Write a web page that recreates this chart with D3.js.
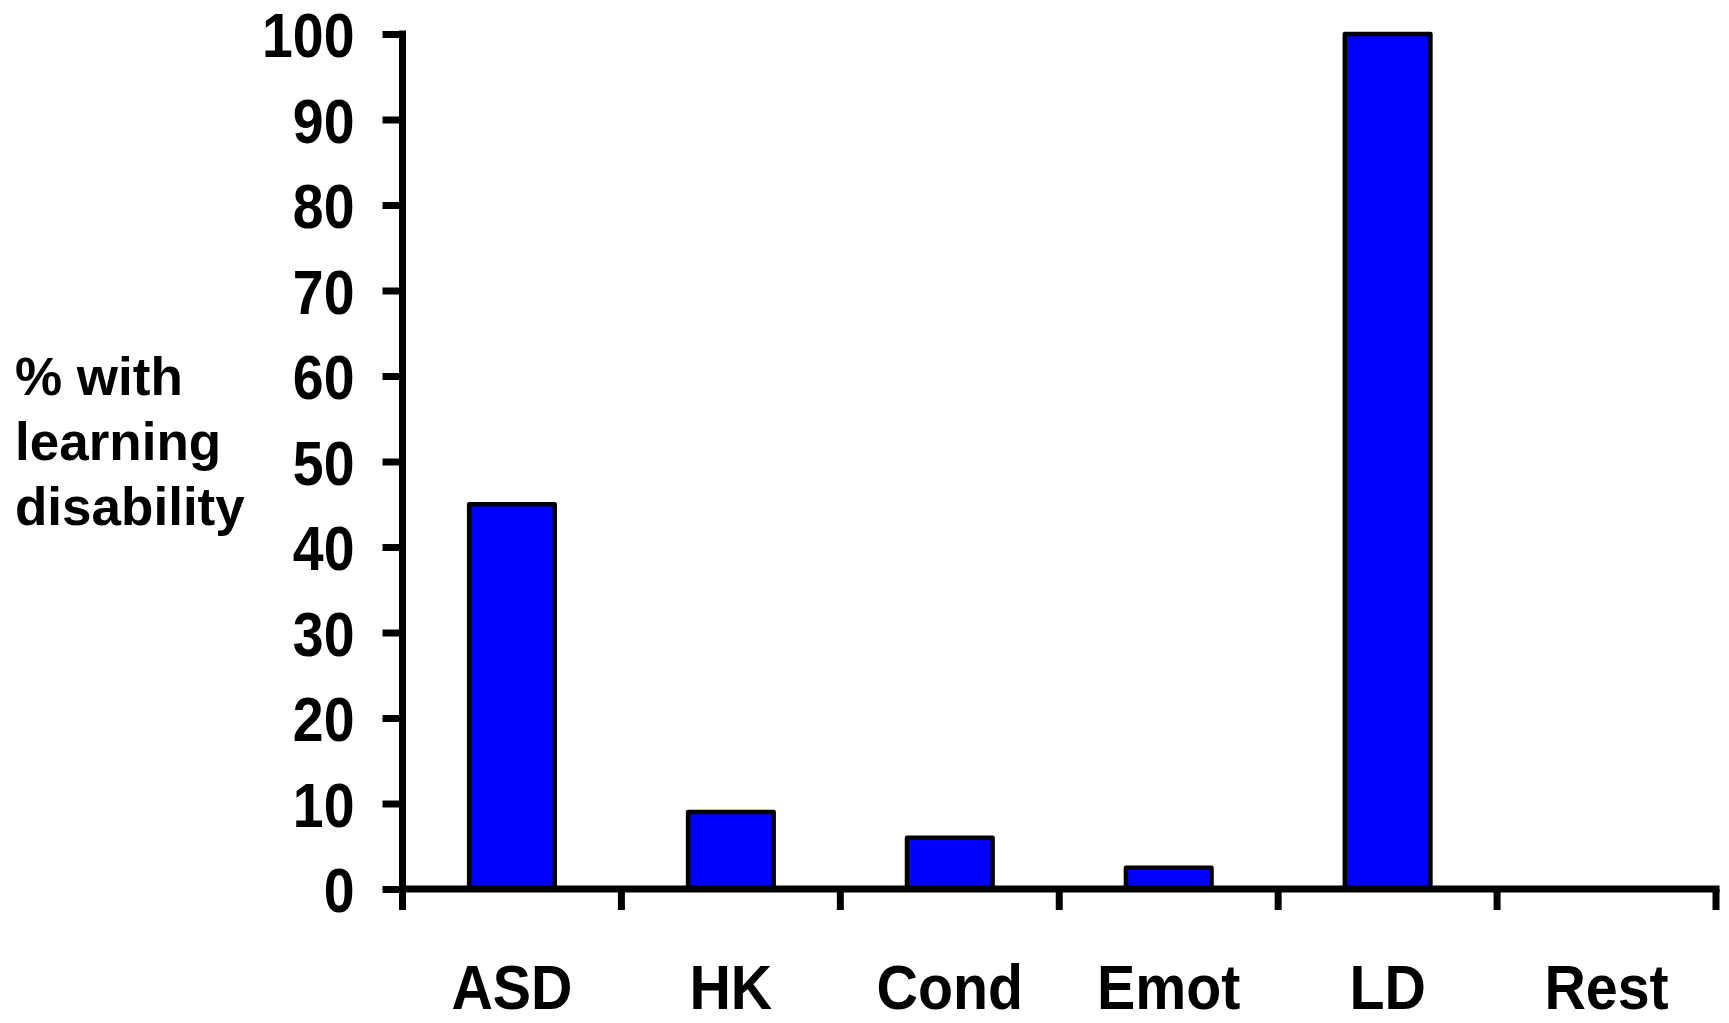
<!DOCTYPE html>
<html>
<head>
<meta charset="utf-8">
<script src="https://cdn.jsdelivr.net/npm/d3@7"></script>
<style>
  html, body { margin: 0; padding: 0; background: #fff; }
  svg { display: block; }
  text { font-family: "Liberation Sans", Arial, Helvetica, sans-serif; font-weight: bold; fill: #000; }
</style>
</head>
<body>
<svg id="chart" width="1729" height="1023"></svg>
<script>
const categories = ["ASD", "HK", "Cond", "Emot", "LD", "Rest"];
const values = [45, 9, 6, 2.5, 100, 0];
const yTicks = [0, 10, 20, 30, 40, 50, 60, 70, 80, 90, 100];
const yTitleLines = ["% with", "learning", "disability"];

const svg = d3.select("#chart");
const x0 = 402.5, x1 = 1716, yBase = 889, yTop = 34;

const x = d3.scaleBand().domain(categories).range([x0, x1])
  .paddingInner(0.609).paddingOuter(0.3045);
const y = d3.scaleLinear().domain([0, 100]).range([yBase, yTop]);
const step = x.step();

function condense(sel, k) {
  sel.each(function() {
    const w = this.getComputedTextLength();
    d3.select(this).attr("textLength", w * k).attr("lengthAdjust", "spacingAndGlyphs");
  });
}

// bars
svg.append("g").selectAll("rect").data(values).join("rect")
  .attr("x", (d, i) => x(categories[i]))
  .attr("width", x.bandwidth())
  .attr("y", d => y(d))
  .attr("height", d => yBase - y(d))
  .attr("fill", "#0000FF")
  .attr("stroke", d => d > 0 ? "#000" : "none")
  .attr("stroke-width", 4.5)
  .attr("stroke-linejoin", "round");

// y axis
const yAxis = d3.axisLeft(y).tickValues(yTicks).tickSize(20).tickPadding(28).tickFormat(d3.format("d"));
const gy = svg.append("g").attr("transform", `translate(${x0},0)`).call(yAxis);
gy.select(".domain").remove();
gy.selectAll(".tick line").attr("stroke", "#000").attr("stroke-width", 7);
gy.selectAll(".tick text").attr("font-size", 63).attr("dy", "0.36em")
  .style("font-family", '"Liberation Sans", Arial, sans-serif').style("font-weight", "bold");
condense(gy.selectAll(".tick text"), 0.88);
svg.append("line").attr("x1", x0).attr("x2", x0).attr("y1", yTop - 3.5).attr("y2", 910)
  .attr("stroke", "#000").attr("stroke-width", 7);

// x axis baseline + boundary ticks
svg.append("line").attr("x1", x0).attr("x2", x1 + 3.5).attr("y1", yBase).attr("y2", yBase)
  .attr("stroke", "#000").attr("stroke-width", 7);
const bounds = d3.range(categories.length + 1).map(i => x0 + i * step);
svg.append("g").selectAll("line").data(bounds.slice(1)).join("line")
  .attr("x1", d => d).attr("x2", d => d)
  .attr("y1", yBase).attr("y2", 910)
  .attr("stroke", "#000").attr("stroke-width", 7);

// x labels
const xl = svg.append("g").selectAll("text").data(categories).join("text")
  .attr("x", d => x(d) + x.bandwidth() / 2)
  .attr("y", 1009)
  .attr("text-anchor", "middle")
  .attr("font-size", 63)
  .text(d => d);
condense(xl, 0.91);

// y title
svg.append("g").selectAll("text").data(yTitleLines).join("text")
  .attr("x", 15)
  .attr("y", (d, i) => 395 + i * 65)
  .attr("font-size", 53)
  .text(d => d);
</script>
</body>
</html>
